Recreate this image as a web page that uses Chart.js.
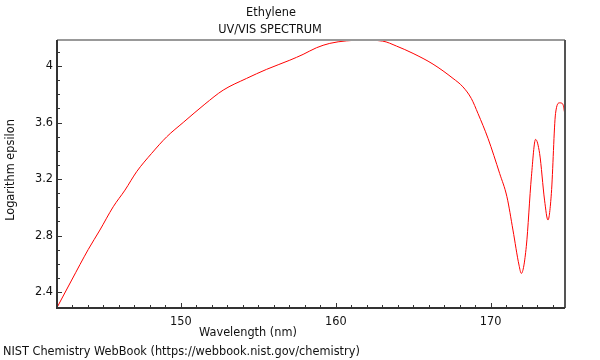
<!DOCTYPE html>
<html>
<head>
<meta charset="utf-8">
<script src="https://cdn.jsdelivr.net/npm/chart.js@4"></script>
<style>
html,body{margin:0;padding:0;background:#fff;}
#wrap{width:600px;height:360px;}
</style>
</head>
<body>
<div id="wrap"><canvas id="c" width="600" height="360"></canvas></div>
<script>
const wavelength = [142.0, 142.95, 144.02, 144.77, 145.63, 146.39, 147.14, 148.11, 149.08, 150.15, 151.55, 152.73, 154.24, 155.53, 157.03, 157.89, 158.75, 159.61, 160.69, 161.74, 163.03, 163.92, 164.99, 166.28, 167.57, 168.21, 168.75, 169.18, 169.83, 170.58, 171.05, 171.44, 171.83, 171.98, 172.30, 172.63, 172.90, 173.16, 173.48, 173.70, 173.92, 174.19, 174.45, 174.66, 174.77];
const logEpsilon = [2.29, 2.485, 2.702, 2.839, 3.004, 3.122, 3.252, 3.382, 3.499, 3.601, 3.731, 3.830, 3.913, 3.977, 4.042, 4.083, 4.130, 4.161, 4.179, 4.184, 4.177, 4.142, 4.090, 4.014, 3.913, 3.853, 3.771, 3.665, 3.488, 3.240, 3.075, 2.839, 2.591, 2.532, 2.721, 3.216, 3.481, 3.382, 3.051, 2.910, 3.099, 3.665, 3.740, 3.731, 3.674];
const xMajorTicks = [150, 160, 170];
const xMinorTicks = [143,144,145,146,147,148,149,151,152,153,154,155,156,157,158,159,161,162,163,164,165,166,167,168,169,171,172,173,174];
const yMajorTicks = [2.4, 2.8, 3.2, 3.6, 4.0];
const yMinorTicks = [2.5,2.6,2.7,2.9,3.0,3.1,3.3,3.4,3.5,3.7,3.8,3.9,4.1];
const titleLines = ["Ethylene", "UV/VIS SPECTRUM"];
const xTitle = "Wavelength (nm)";
const yTitle = "Logarithm epsilon";
const footer = "NIST Chemistry WebBook (https://webbook.nist.gov/chemistry)";

const FONT = "DejaVu Sans Condensed";
const FSIZE = 12.6;

const points = wavelength.map((w, i) => ({x: w, y: logEpsilon[i]}));

const decor = {
  id: 'decor',
  afterDraw(chart) {
    const ctx = chart.ctx;
    const a = chart.chartArea;
    const xs = chart.scales.x, ys = chart.scales.y;
    ctx.save();
    ctx.strokeStyle = '#333';
    ctx.lineWidth = 1;
    ctx.beginPath();
    xMajorTicks.forEach(v => { const p = Math.round(xs.getPixelForValue(v)) + 0.5; ctx.moveTo(p, a.bottom); ctx.lineTo(p, a.bottom - 5); });
    xMinorTicks.forEach(v => { const p = Math.round(xs.getPixelForValue(v)) + 0.5; ctx.moveTo(p, a.bottom); ctx.lineTo(p, a.bottom - 3); });
    yMajorTicks.forEach(v => { const p = Math.round(ys.getPixelForValue(v)) + 0.5; ctx.moveTo(a.left, p); ctx.lineTo(a.left + 5, p); });
    yMinorTicks.forEach(v => { const p = Math.round(ys.getPixelForValue(v)) + 0.5; ctx.moveTo(a.left, p); ctx.lineTo(a.left + 3, p); });
    ctx.stroke();
    ctx.lineWidth = 2;
    ctx.strokeStyle = '#999';
    ctx.beginPath(); ctx.moveTo(a.left, a.top); ctx.lineTo(a.right, a.top); ctx.stroke();
    ctx.strokeStyle = '#555';
    ctx.beginPath(); ctx.moveTo(a.right, a.top); ctx.lineTo(a.right, a.bottom); ctx.stroke();
    ctx.strokeStyle = '#333';
    ctx.beginPath(); ctx.moveTo(a.left, a.top); ctx.lineTo(a.left, a.bottom); ctx.lineTo(a.right, a.bottom); ctx.stroke();
    ctx.fillStyle = '#111';
    ctx.font = FSIZE + "px '" + FONT + "'";
    ctx.textAlign = 'center';
    ctx.textBaseline = 'middle';
    ctx.fillText(titleLines[0], 271, 13);
    ctx.fillText(titleLines[1], 270, 30);
    ctx.fillText(xTitle, 248, 333);
    ctx.save();
    ctx.translate(11, 170);
    ctx.rotate(-Math.PI / 2);
    ctx.fillText(yTitle, 0, 0);
    ctx.restore();
    ctx.textAlign = 'left';
    ctx.fillText(footer, 3, 352);
    ctx.restore();
  }
};

new Chart(document.getElementById('c'), {
  type: 'line',
  data: {
    datasets: [{
      data: points,
      borderColor: '#ff0000',
      borderWidth: 1,
      pointRadius: 0,
      fill: false,
      cubicInterpolationMode: 'monotone'
    }]
  },
  options: {
    responsive: false,
    animation: false,
    events: [],
    layout: { padding: { top: 40, right: 35, bottom: 0, left: 0 } },
    plugins: { legend: { display: false }, title: { display: false }, tooltip: { enabled: false } },
    scales: {
      x: {
        type: 'linear',
        min: 142,
        max: 174.8,
        grid: { display: false, drawTicks: false },
        border: { display: false },
        afterBuildTicks: s => { s.ticks = xMajorTicks.map(v => ({value: v})); },
        afterFit: s => { s.height = 52; },
        ticks: { color: '#111', padding: 6, font: { family: FONT, size: FSIZE }, maxRotation: 0, autoSkip: false, callback: v => String(v) }
      },
      y: {
        type: 'linear',
        min: 2.287,
        max: 4.185,
        grid: { display: false, drawTicks: false },
        border: { display: false },
        afterBuildTicks: s => { s.ticks = yMajorTicks.map(v => ({value: v})); },
        afterFit: s => { s.width = 57; },
        ticks: { color: '#111', padding: 4, font: { family: FONT, size: FSIZE }, autoSkip: false, callback: v => String(v) }
      }
    }
  },
  plugins: [decor]
});
</script>
</body>
</html>
